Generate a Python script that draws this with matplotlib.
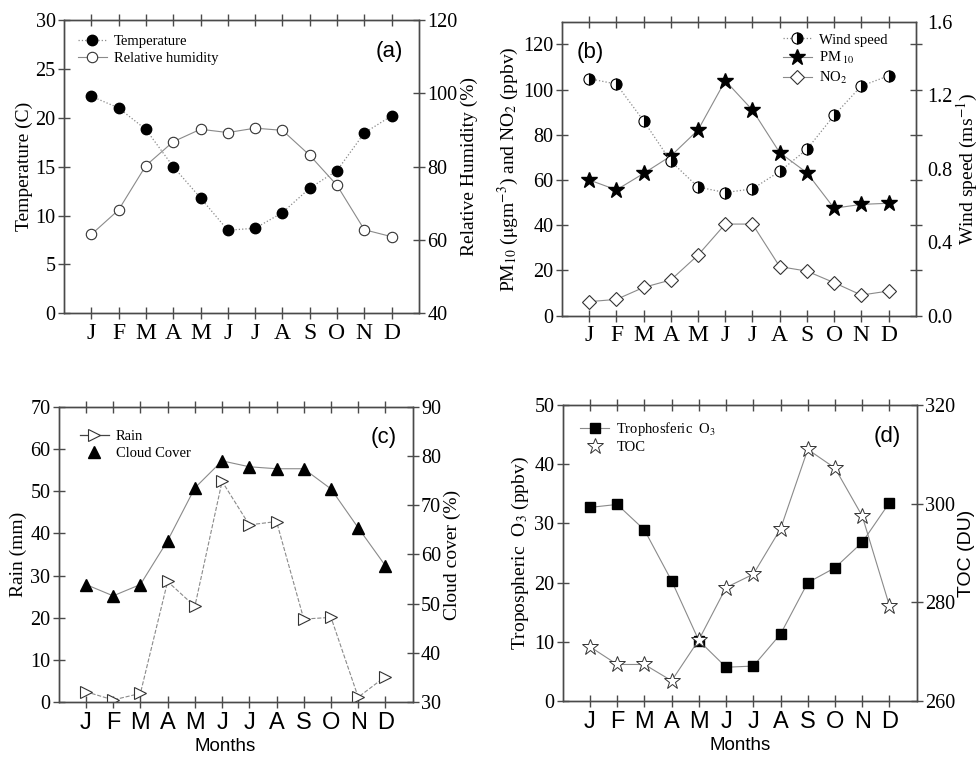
import matplotlib
matplotlib.use('Agg')
import matplotlib.pyplot as plt
import numpy as np

plt.rcParams['font.family'] = 'Liberation Serif'
plt.rcParams['mathtext.fontset'] = 'stix'

# Data
months = ['J', 'F', 'M', 'A', 'M', 'J', 'J', 'A', 'S', 'O', 'N', 'D']
temperature = [22.2, 21.0, 18.8, 15.0, 11.8, 8.5, 8.7, 10.3, 12.8, 14.6, 18.45, 20.2]
rel_humidity = [61.5, 68.2, 80.3, 86.8, 90.2, 89.3, 90.5, 89.9, 83.1, 74.9, 62.8, 60.9]
wind_speed = [1.29, 1.26, 1.06, 0.84, 0.70, 0.67, 0.69, 0.785, 0.905, 1.09, 1.25, 1.305]
pm10 = [60.0, 55.6, 62.9, 70.6, 82.1, 103.9, 90.9, 72.1, 63.2, 47.5, 49.2, 49.7]
no2 = [6.2, 7.2, 12.5, 15.8, 26.8, 40.5, 40.5, 21.7, 19.7, 14.6, 9.1, 10.9]
rain = [2.5, 0.55, 2.1, 28.6, 22.7, 52.3, 42.0, 42.8, 19.7, 20.1, 1.2, 6.1]
cloud_cover = [53.9, 51.6, 53.9, 62.8, 73.5, 79.0, 77.8, 77.4, 77.4, 73.3, 65.4, 57.7]
trop_o3 = [32.7, 33.2, 28.9, 20.3, 10.2, 5.7, 5.9, 11.3, 20.0, 22.5, 26.8, 33.5]
toc = [271.0, 267.4, 267.4, 264.1, 272.4, 283.0, 285.7, 294.9, 311.0, 307.2, 297.5, 279.3]

x = np.arange(1, 13)
LINE = '#8a8a8a'
SPINE = '#4a4a4a'
SANS = 'Liberation Sans'
TICK_FS = 14.5
LAB_FS = 14
LEG_FS = 10.5


def style_axes(ax, ylim, yticks, month_font, right_ticks=False):
    ax.set_xlim(0, 13)
    ax.set_ylim(*ylim)
    ax.set_yticks(yticks)
    ax.set_xticks(x)
    ax.set_xticklabels(months, fontsize=17, family=month_font)
    ax.tick_params(axis='x', direction='inout', length=8, width=1, color=SPINE,
                   top=True, pad=3)
    ax.tick_params(axis='y', direction='inout', length=8, width=1, color=SPINE,
                   labelsize=TICK_FS, right=right_ticks, pad=2)
    for s in ax.spines.values():
        s.set_color(SPINE)
        s.set_linewidth(1)


def style_twin(tw, ylim, yticks, ticklen=8):
    tw.set_ylim(*ylim)
    tw.set_yticks(yticks)
    tw.tick_params(axis='y', direction='inout', length=ticklen, width=1, color=SPINE,
                   labelsize=TICK_FS, pad=2)
    for s in tw.spines.values():
        s.set_color(SPINE)
        s.set_linewidth(1)


leg_kw = dict(frameon=False, fontsize=LEG_FS, handlelength=2.0, handletextpad=0.5,
              labelspacing=0.25, borderaxespad=0.3)

fig = plt.figure(figsize=(9.8, 7.57), dpi=100)

# (a) temperature / relative humidity
ax1 = fig.add_axes([0.0653, 0.5861, 0.3622, 0.3875])
tw1 = ax1.twinx()
l1, = ax1.plot(x, temperature, ls=':', color=LINE, lw=0.9, marker='o', ms=7.5,
               mfc='black', mec='black', label='Temperature')
l2, = tw1.plot(x, rel_humidity, ls='-', color=LINE, lw=0.8, marker='o', ms=7.5,
               mfc='white', mec='#333333', mew=0.8, label='Relative humidity')
style_axes(ax1, (0, 30), np.arange(0, 31, 5), 'Liberation Serif')
style_twin(tw1, (40, 120), np.arange(40, 121, 20))
ax1.set_ylabel('Temperature (C)', fontsize=LAB_FS, labelpad=2)
tw1.set_ylabel('Relative Humidity (%)', fontsize=LAB_FS, labelpad=2)
ax1.legend(handles=[l1, l2], loc='upper left', bbox_to_anchor=(0.01, 0.985), **leg_kw)
ax1.text(0.955, 0.93, '(a)', transform=ax1.transAxes, ha='right', va='top',
         fontsize=16, family=SANS)

# (b) wind speed / PM10 / NO2
ax2 = fig.add_axes([0.5735, 0.5830, 0.3609, 0.3884])
tw2 = ax2.twinx()
l3, = tw2.plot(x, wind_speed, ls=':', color=LINE, lw=0.9, marker='o', ms=8,
               fillstyle='right', mfc='black', mfcalt='white', mec='black', mew=0.8,
               label='Wind speed')
l4, = ax2.plot(x, pm10, ls='-', color=LINE, lw=0.8, marker='*', ms=12,
               mfc='black', mec='black', label='PM$_{\\ 10}$')
l5, = ax2.plot(x, no2, ls='-', color=LINE, lw=0.8, marker='D', ms=7,
               mfc='white', mec='#333333', mew=0.8, label='NO$_2$')
style_axes(ax2, (0, 130), np.arange(0, 121, 20), 'Liberation Serif', right_ticks=True)
style_twin(tw2, (0, 1.6), np.arange(0, 1.61, 0.4), ticklen=0)
tw2.set_yticklabels(['0.0', '0.4', '0.8', '1.2', '1.6'])
tw2.tick_params(axis='y', pad=8)
ax2.set_ylabel('PM$_{10}$ ($\\mathrm{\\mu}$gm$^{-3}$) and NO$_2$ (ppbv)', fontsize=LAB_FS,
               labelpad=2)
tw2.set_ylabel('Wind speed (ms$^{-1}$)', fontsize=LAB_FS, labelpad=2)
ax2.legend(handles=[l3, l4, l5], loc='upper right', bbox_to_anchor=(0.95, 0.995), **leg_kw)
ax2.text(0.04, 0.93, '(b)', transform=ax2.transAxes, ha='left', va='top',
         fontsize=16, family=SANS)

# (c) rain / cloud cover
ax3 = fig.add_axes([0.0599, 0.0723, 0.3612, 0.3905])
tw3 = ax3.twinx()
l6, = ax3.plot(x, rain, ls='--', color=LINE, lw=0.8, marker='>', ms=9,
               mfc='white', mec='#333333', mew=0.8, label='Rain')
l7, = tw3.plot(x, cloud_cover, ls='-', color=LINE, lw=0.8, marker='^', ms=9,
               mfc='black', mec='black', label='Cloud Cover')
style_axes(ax3, (0, 70), np.arange(0, 71, 10), SANS)
style_twin(tw3, (30, 90), np.arange(30, 91, 10))
ax3.set_ylabel('Rain (mm)', fontsize=LAB_FS, labelpad=2)
tw3.set_ylabel('Cloud cover (%)', fontsize=LAB_FS, labelpad=2)
ax3.set_xlabel('Months', fontsize=13.5, family=SANS)
ax3.xaxis.set_label_coords(0.47, -0.12)
h7 = plt.Line2D([], [], ls='none', marker='^', ms=9, mfc='black', mec='black')
h6 = plt.Line2D([], [], ls='-', color='#444444', lw=0.9, marker='>', ms=9,
                mfc='white', mec='#333333', mew=0.8)
ax3.legend(handles=[h6, h7], labels=['Rain', 'Cloud Cover'], loc='upper left',
           bbox_to_anchor=(0.03, 0.955), **leg_kw)
ax3.text(0.955, 0.93, '(c)', transform=ax3.transAxes, ha='right', va='top',
         fontsize=16, family=SANS)

# (d) tropospheric O3 / TOC
ax4 = fig.add_axes([0.5742, 0.0740, 0.3612, 0.3910])
tw4 = ax4.twinx()
l8, = ax4.plot(x, trop_o3, ls='-', color=LINE, lw=0.8, marker='s', ms=7.5,
               mfc='black', mec='black', label='Trophosferic  O$_3$')
l9, = tw4.plot(x, toc, ls='-', color=LINE, lw=0.8, marker='*', ms=12,
               mfc='white', mec='#333333', mew=0.7, label='TOC')
style_axes(ax4, (0, 50), np.arange(0, 51, 10), SANS)
style_twin(tw4, (260, 320), np.arange(260, 321, 20))
ax4.set_ylabel('Tropospheric  O$_3$ (ppbv)', fontsize=LAB_FS, labelpad=2)
tw4.set_ylabel('TOC (DU)', fontsize=LAB_FS, family=SANS, labelpad=2)
ax4.set_xlabel('Months', fontsize=13.5, family=SANS)
ax4.xaxis.set_label_coords(0.5, -0.12)
h9 = plt.Line2D([], [], ls='none', marker='*', ms=12, mfc='white', mec='#333333', mew=0.7)
ax4.legend(handles=[l8, h9], labels=['Trophosferic  O$_3$', 'TOC'], loc='upper left',
           bbox_to_anchor=(0.02, 0.985), **leg_kw)
ax4.text(0.955, 0.93, '(d)', transform=ax4.transAxes, ha='right', va='top',
         fontsize=16, family=SANS)

plt.savefig('out.png', dpi=100)
